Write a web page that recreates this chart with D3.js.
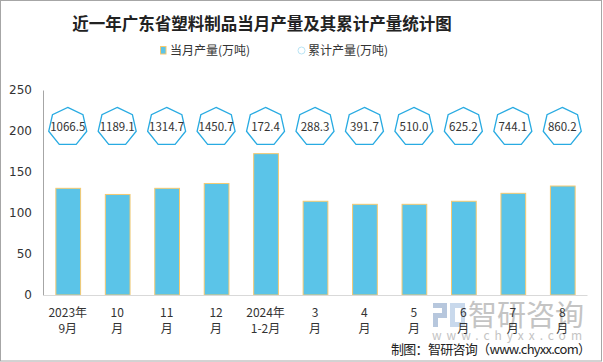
<!DOCTYPE html>
<html lang="zh">
<head>
<meta charset="UTF-8">
<title>近一年广东省塑料制品当月产量及其累计产量统计图</title>
<script src="https://d3js.org/d3.v7.min.js"></script>
<style>
  body { margin: 0; background: #fff; }
  svg { display: block; font-family: "Noto Sans CJK SC", "Noto Sans", sans-serif; }
</style>
</head>
<body>
<div id="chart"></div>
<script>
  // data
  const months = ["2023年\n9月", "10\n月", "11\n月", "12\n月", "2024年\n1-2月", "3\n月", "4\n月", "5\n月", "6\n月", "7\n月", "8\n月"];
  const monthly = [130.1, 122.6, 130.1, 136.0, 172.4, 114.3, 110.6, 110.6, 114.3, 124.0, 132.9];
  const cumulative = [1066.5, 1189.1, 1314.7, 1450.7, 172.4, 288.3, 391.7, 510.0, 625.2, 744.1, 860.2];
  const yTicks = [0, 50, 100, 150, 200, 250];

  const width = 603, height = 362;
  const margin = { top: 90, right: 16, bottom: 67, left: 43 };

  const svg = d3.select("#chart").append("svg")
    .attr("width", width).attr("height", height);

  // frame
  svg.append("rect")
    .attr("x", 0.5).attr("y", 0.5)
    .attr("width", width - 2).attr("height", height - 1.5)
    .attr("fill", "#fff").attr("stroke", "#a6a6a6");

  const x = d3.scaleBand()
    .domain(months)
    .range([margin.left, width - margin.right])
    .paddingInner(0.5)
    .paddingOuter(0.25);

  const y = d3.scaleLinear()
    .domain([0, 250])
    .range([height - margin.bottom, margin.top]);

  // title
  svg.append("text")
    .attr("x", 262).attr("y", 30)
    .attr("text-anchor", "middle")
    .attr("font-size", 16.5).attr("font-weight", "bold")
    .attr("fill", "#222")
    .text("近一年广东省塑料制品当月产量及其累计产量统计图");

  // legend
  const lg = svg.append("g");
  lg.append("rect").attr("x", 160.5).attr("y", 46.5).attr("width", 5.5).attr("height", 7.5)
    .attr("fill", "#5bc4e8").attr("stroke", "#f5c970");
  lg.append("text").attr("x", 170).attr("y", 55).attr("font-size", 12).attr("fill", "#333")
    .text("当月产量(万吨)");
  lg.append("circle").attr("cx", 301.5).attr("cy", 50.5).attr("r", 3.5)
    .attr("fill", "#fff").attr("stroke", "#b9e4f5");
  lg.append("text").attr("x", 308).attr("y", 55).attr("font-size", 12).attr("fill", "#333")
    .text("累计产量(万吨)");

  // watermark
  const wm = svg.append("g");
  wm.append("rect").attr("x", 433).attr("y", 303).attr("width", 14).attr("height", 5).attr("fill", "#b7c7dd");
  wm.append("rect").attr("x", 442).attr("y", 303).attr("width", 5).attr("height", 14).attr("fill", "#b7c7dd");
  wm.append("rect").attr("x", 433).attr("y", 313).attr("width", 14).attr("height", 5).attr("fill", "#b7c7dd");
  wm.append("rect").attr("x", 433).attr("y", 313).attr("width", 5).attr("height", 14).attr("fill", "#b7c7dd");
  wm.append("rect").attr("x", 450).attr("y", 303).attr("width", 15).attr("height", 24).attr("fill", "#c9d9ec");
  wm.append("rect").attr("x", 455).attr("y", 308).attr("width", 6).attr("height", 14).attr("fill", "#fff");
  wm.append("text").attr("x", 468).attr("y", 326).attr("font-size", 29)
    .attr("fill", "#c4c4c4").attr("textLength", 116).text("智研咨询");
  wm.append("text").attr("x", 432).attr("y", 340).attr("font-size", 12)
    .attr("fill", "#c4c4c4").attr("textLength", 150).text("www.chyxx.com");

  // y axis
  const yAxis = svg.append("g")
    .attr("transform", `translate(${margin.left},0)`)
    .call(d3.axisLeft(y).tickValues(yTicks).tickSize(0).tickPadding(11));
  yAxis.select(".domain").attr("stroke", "#a6a6a6");
  yAxis.selectAll("text").attr("font-size", 12).attr("fill", "#333")
    .attr("font-family", "'DejaVu Sans', sans-serif");

  // bars
  svg.append("g").selectAll("rect")
    .data(monthly)
    .join("rect")
    .attr("x", (d, i) => x(months[i]) + 0.5)
    .attr("y", d => y(d))
    .attr("width", x.bandwidth())
    .attr("height", d => y(0) - y(d))
    .attr("fill", "#5bc4e8")
    .attr("stroke", "#f5c970")
    .attr("stroke-width", 1);

  // x axis
  const xAxis = svg.append("g")
    .attr("transform", `translate(0,${y(0)})`)
    .call(d3.axisBottom(x).tickSize(0).tickFormat(""));
  xAxis.select(".domain").attr("stroke", "#d9d9d9");

  svg.append("g").selectAll("text")
    .data(months)
    .join("text")
    .attr("x", d => x(d) + x.bandwidth() / 2)
    .attr("y", 317)
    .attr("text-anchor", "middle")
    .attr("font-size", 12)
    .attr("fill", "#333")
    .each(function (d) {
      d.split("\n").forEach((line, k) => {
        d3.select(this).append("tspan")
          .attr("x", x(d) + x.bandwidth() / 2)
          .attr("dy", k === 0 ? 0 : 16)
          .text(line);
      });
    });

  // cumulative markers (heptagons at a fixed level)
  const R = 19.5;
  const hept = d3.range(7).map(k => {
    const a = -Math.PI / 2 + k * 2 * Math.PI / 7;
    return [R * Math.cos(a), R * Math.sin(a)];
  });
  const markerY = y(205);
  const mk = svg.append("g").selectAll("g")
    .data(cumulative)
    .join("g")
    .attr("transform", (d, i) => `translate(${x(months[i]) + x.bandwidth() / 2},${markerY})`);
  mk.append("path")
    .attr("d", d3.line()(hept) + "Z")
    .attr("fill", "#fff")
    .attr("stroke", "#29abe2")
    .attr("stroke-width", 1.3);
  mk.append("text")
    .attr("text-anchor", "middle")
    .attr("y", 4.5)
    .attr("font-size", 11.5)
    .attr("fill", "#333")
    .text(d => d.toFixed(1));

  // footer
  svg.append("text")
    .attr("x", 391).attr("y", 354)
    .attr("font-size", 13)
    .attr("fill", "#222")
    .attr("textLength", 200)
    .text("制图：智研咨询（www.chyxx.com）");
</script>
</body>
</html>
